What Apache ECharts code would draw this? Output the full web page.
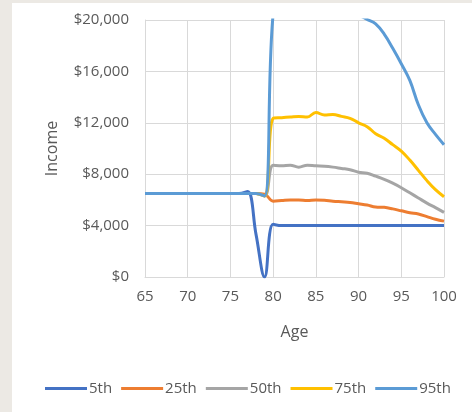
<!DOCTYPE html>
<html>
<head>
<meta charset="utf-8">
<script src="https://cdn.jsdelivr.net/npm/echarts@6/dist/echarts.min.js"></script>
<style>
html,body{margin:0;padding:0;background:#ECE9E4;width:472px;height:412px;overflow:hidden;}
#chart{position:absolute;left:12px;top:3px;width:460px;height:409px;background:#ffffff;}
</style>
</head>
<body>
<div id="chart"></div>
<script>
const ages = [65,66,67,68,69,70,71,72,73,74,75,76,77,78,79,80,81,82,83,84,85,86,87,88,89,90,91,92,93,94,95,96,97,98,99,100];
const p5  = [6500,6500,6500,6500,6500,6500,6500,6500,6500,6500,6500,6500,6650,3300,0,4100,4000,4000,4000,4000,4000,4000,4000,4000,4000,4000,4000,4000,4000,4000,4000,4000,4000,4000,4000,4000];
const p25 = [6500,6500,6500,6500,6500,6500,6500,6500,6500,6500,6500,6500,6500,6500,6450,5900,5950,6000,6000,5950,6000,5980,5900,5850,5800,5700,5600,5450,5420,5300,5150,5000,4900,4700,4500,4350];
const p50 = [6500,6500,6500,6500,6500,6500,6500,6500,6500,6500,6500,6500,6500,6500,6300,8700,8650,8700,8550,8700,8650,8620,8550,8450,8350,8150,8080,7850,7600,7300,6950,6550,6150,5750,5400,5030];
const p75 = [6500,6500,6500,6500,6500,6500,6500,6500,6500,6500,6500,6500,6500,6500,6300,12350,12400,12450,12500,12450,12800,12600,12650,12500,12350,12000,11700,11150,10800,10300,9800,9100,8300,7500,6800,6250];
const p95 = [6500,6500,6500,6500,6500,6500,6500,6500,6500,6500,6500,6500,6500,6500,6300,20500,21000,21500,21800,22000,22000,21800,21500,21200,20800,20400,20050,19700,18900,17800,16600,15300,13400,12000,11100,10300];
const seriesNames = ['5th','25th','50th','75th','95th'];
const seriesData = [p5,p25,p50,p75,p95];
const colors = ['#4472C4','#ED7D31','#A5A5A5','#FFC000','#5B9BD5'];
const yTicks = {min:0,max:20000,interval:4000};
const xTicks = {min:65,max:100,interval:5};

const chart = echarts.init(document.getElementById('chart'));
const font = 'Open Sans';
chart.setOption({
  animation:false,
  color:colors,
  grid:{left:133,right:28,top:17,bottom:135,containLabel:false},
  xAxis:{
    type:'value',min:xTicks.min,max:xTicks.max,interval:xTicks.interval,
    name:'Age',nameLocation:'middle',nameGap:47,
    nameTextStyle:{fontFamily:font,fontSize:16,color:'#595959'},
    axisLine:{show:true,lineStyle:{color:'#D9D9D9',width:1}},
    axisTick:{show:false},
    axisLabel:{fontFamily:font,fontSize:15,color:'#595959',margin:12},
    splitLine:{show:true,lineStyle:{color:'#D9D9D9',width:1}}
  },
  yAxis:{
    type:'value',min:yTicks.min,max:yTicks.max,interval:yTicks.interval,
    name:'Income',nameLocation:'middle',nameGap:85,
    nameTextStyle:{fontFamily:font,fontSize:16,color:'#595959'},
    axisLine:{show:true,lineStyle:{color:'#D9D9D9',width:1}},
    axisTick:{show:false},
    axisLabel:{fontFamily:font,fontSize:15,color:'#595959',margin:16,
      formatter:function(v){return '$'+v.toLocaleString('en-US');}},
    splitLine:{show:true,lineStyle:{color:'#D9D9D9',width:1}}
  },
  legend:{
    left:28,top:373,width:440,icon:'rect',itemWidth:42,itemHeight:3,itemGap:9,
    textStyle:{fontFamily:font,fontSize:15,color:'#595959',padding:[0,0,0,-3]},
    data:seriesNames
  },
  series:seriesNames.map(function(n,i){
    return {
      name:n,type:'line',smooth:0.4,symbol:'none',clip:true,
      lineStyle:{width:3,color:colors[i]},
      itemStyle:{color:colors[i]},
      data:ages.map(function(a,j){return [a,seriesData[i][j]];})
    };
  })
});
</script>
</body>
</html>
